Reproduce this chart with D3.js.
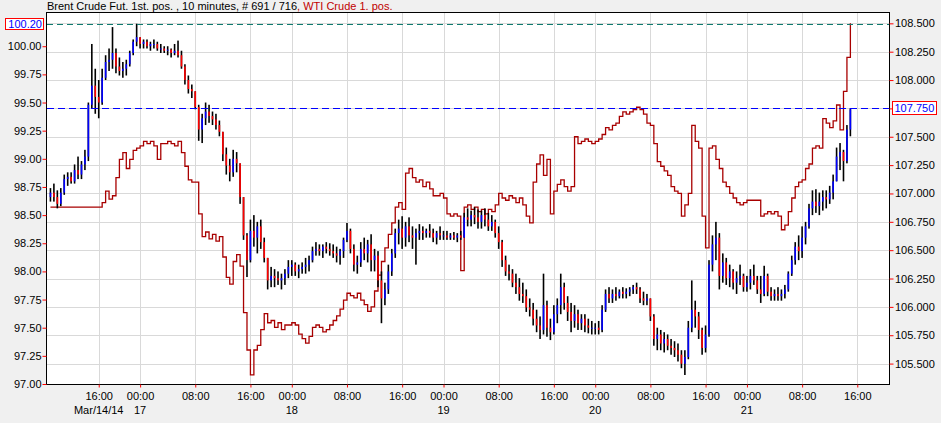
<!DOCTYPE html>
<html><head><meta charset="utf-8">
<script src="https://cdn.jsdelivr.net/npm/d3@7"></script>
<style>
html,body{margin:0;padding:0;background:#f0f0f0;}
svg{display:block;font-family:"Liberation Sans",Arial,sans-serif;font-size:11px;}
</style></head><body>
<svg id="c" width="941" height="423"></svg>
<script>
// ---------- DATA ----------
// Bars are 30-minute samples on a trading-hours axis (hours since Mar 14 00:00, nights/weekend gaps removed)
const barStartHour = 9;
const barStepHours = 0.5;
const brentFirstOpen = 98.66;

const brentClose = [
// Mar 14
98.70,98.66,98.60,98.70,98.82,98.84,98.80,98.90,98.86,98.95,99.02,99.48,99.65,99.55,99.50,99.72,99.86,99.88,99.94,99.82,99.78,99.80,99.84,99.94,100.04,100.08,
// Mar 17
100.02,100.04,100.00,100.02,100.02,99.98,99.98,99.96,99.97,99.94,99.96,99.92,99.82,99.70,99.62,99.60,99.46,99.26,99.36,99.42,99.38,99.35,99.30,99.24,99.04,98.94,98.88,99.00,98.96,98.66,98.32,98.10,98.36,98.30,98.40,98.26,98.12,97.92,97.96,97.94,97.92,97.94,97.98,98.04,
// Mar 18
98.06,98.00,98.02,98.04,98.06,98.10,98.18,98.20,98.18,98.22,98.20,98.18,98.16,98.14,98.18,98.28,98.36,98.20,98.06,98.08,98.20,98.16,98.24,98.10,98.14,97.92,97.76,97.84,98.00,98.16,98.34,98.38,98.30,98.40,98.32,98.30,98.34,98.36,98.34,98.36,98.34,98.30,98.34,98.32,
// Mar 19
98.32,98.30,98.32,98.30,98.32,98.30,98.48,98.46,98.50,98.48,98.44,98.50,98.46,98.40,98.44,98.34,98.26,98.10,98.00,97.98,97.90,97.86,97.80,97.78,97.68,97.66,97.58,97.52,97.48,97.70,97.50,97.46,97.62,97.70,97.86,97.72,97.64,97.56,97.62,97.54,97.58,97.52,97.50,97.50,
// Mar 20
97.50,97.48,97.66,97.80,97.76,97.80,97.78,97.82,97.80,97.82,97.84,97.86,97.84,97.76,97.74,97.76,97.60,97.40,97.44,97.36,97.40,97.34,97.32,97.30,97.26,97.18,97.24,97.50,97.66,97.60,97.48,97.32,97.44,98.06,98.24,98.30,97.96,98.08,97.94,98.00,97.90,97.94,97.96,97.86,
// Mar 21
97.90,97.96,97.92,97.84,97.80,97.96,97.82,97.78,97.80,97.78,97.80,97.84,97.98,98.10,98.22,98.18,98.30,98.40,98.56,98.62,98.58,98.62,98.66,98.64,98.70,98.80,99.02,99.06,98.98,99.26,99.44
];
const brentHigh = [
98.74,98.78,98.72,98.74,98.86,98.88,98.88,98.95,99.02,98.98,99.08,99.50,100.02,99.80,99.70,99.80,99.92,99.98,100.17,99.98,99.90,99.86,99.88,99.96,100.06,100.20,
100.08,100.06,100.06,100.04,100.06,100.04,100.02,100.00,100.00,99.98,100.02,100.05,99.96,99.84,99.74,99.66,99.60,99.48,99.40,99.50,99.48,99.42,99.40,99.34,99.24,99.10,99.00,99.08,99.06,98.96,98.66,98.34,98.46,98.50,98.44,98.46,98.30,98.12,98.04,98.02,98.00,97.98,98.02,98.10,
98.10,98.08,98.06,98.08,98.12,98.14,98.22,98.26,98.24,98.24,98.26,98.25,98.24,98.22,98.20,98.30,98.43,98.38,98.24,98.14,98.26,98.30,98.28,98.33,98.20,98.18,98.00,97.90,98.06,98.20,98.38,98.46,98.49,98.44,98.48,98.40,98.38,98.42,98.40,98.38,98.42,98.38,98.36,98.40,
98.36,98.36,98.34,98.35,98.34,98.36,98.52,98.56,98.54,98.57,98.55,98.54,98.56,98.52,98.50,98.46,98.40,98.28,98.14,98.06,98.02,97.98,97.94,97.90,97.84,97.76,97.72,97.66,97.60,97.98,97.74,97.58,97.70,97.76,97.98,97.90,97.78,97.72,97.70,97.66,97.62,97.62,97.58,97.56,
97.54,97.56,97.70,97.84,97.86,97.84,97.86,97.84,97.86,97.85,97.86,97.88,97.90,97.86,97.82,97.80,97.76,97.62,97.50,97.48,97.46,97.44,97.40,97.38,97.36,97.30,97.30,97.56,97.92,97.74,97.64,97.50,97.52,98.10,98.32,98.44,98.34,98.16,98.12,98.06,98.02,98.00,98.06,97.98,
97.96,98.02,98.06,97.96,97.96,98.05,97.98,97.86,97.84,97.86,97.84,97.88,98.00,98.14,98.26,98.32,98.40,98.44,98.60,98.72,98.73,98.70,98.72,98.72,98.76,98.86,99.10,99.14,99.08,99.30,99.45
];
const brentLow = [
98.62,98.62,98.56,98.58,98.68,98.76,98.78,98.78,98.82,98.82,98.90,98.98,99.45,99.40,99.36,99.48,99.70,99.78,99.80,99.76,99.74,99.72,99.74,99.82,99.92,100.00,
99.98,99.98,99.98,99.96,99.98,99.96,99.94,99.94,99.92,99.90,99.92,99.90,99.80,99.66,99.58,99.54,99.44,99.16,99.14,99.30,99.32,99.30,99.26,99.20,98.98,98.86,98.80,98.84,98.88,98.60,98.28,97.95,98.08,98.22,98.16,98.20,98.08,97.84,97.86,97.86,97.88,97.84,97.88,97.94,
97.96,97.96,97.94,97.98,97.98,98.00,98.08,98.14,98.14,98.12,98.16,98.14,98.12,98.08,98.06,98.12,98.26,98.16,98.00,97.98,98.04,98.10,98.08,98.00,98.00,97.86,97.54,97.70,97.80,97.96,98.12,98.24,98.20,98.22,98.26,98.20,98.06,98.28,98.28,98.30,98.30,98.26,98.24,98.28,
98.28,98.28,98.28,98.28,98.26,98.28,98.30,98.40,98.40,98.42,98.38,98.38,98.40,98.36,98.36,98.30,98.20,98.04,97.96,97.92,97.86,97.80,97.74,97.72,97.64,97.60,97.52,97.46,97.40,97.44,97.42,97.39,97.44,97.54,97.62,97.66,97.56,97.46,97.50,97.48,97.48,97.46,97.45,97.44,
97.44,97.44,97.46,97.64,97.72,97.72,97.74,97.76,97.76,97.76,97.78,97.80,97.80,97.72,97.70,97.70,97.56,97.34,97.30,97.30,97.28,97.30,97.26,97.24,97.20,97.14,97.08,97.22,97.46,97.50,97.40,97.26,97.28,97.42,98.00,98.10,97.84,97.90,97.88,97.86,97.84,97.80,97.88,97.82,
97.82,97.84,97.88,97.80,97.72,97.78,97.78,97.74,97.74,97.74,97.74,97.76,97.82,97.96,98.06,98.10,98.12,98.24,98.38,98.50,98.52,98.50,98.54,98.56,98.60,98.64,98.80,98.90,98.80,98.96,99.20
];
const wtiClose = [
// Mar 14
106.88,106.88,106.88,106.88,106.88,106.88,106.88,106.88,106.88,106.88,106.88,106.88,106.88,106.88,106.88,106.92,107.02,106.95,106.98,107.14,107.30,107.36,107.22,107.30,107.38,107.40,
// Mar 17
107.42,107.46,107.44,107.46,107.42,107.30,107.44,107.44,107.46,107.44,107.42,107.46,107.36,107.24,107.12,107.10,107.10,106.82,106.62,106.66,106.60,106.64,106.58,106.62,106.44,106.26,106.20,106.40,106.46,106.36,105.95,105.62,105.40,105.62,105.66,105.80,105.94,105.86,105.88,105.82,105.86,105.80,105.84,105.84,
// Mar 18
105.86,105.84,105.76,105.72,105.68,105.74,105.82,105.84,105.82,105.78,105.80,105.84,105.88,105.92,105.98,106.06,106.12,106.10,106.08,106.12,106.06,106.02,105.96,106.00,106.14,106.28,106.40,106.52,106.64,106.74,106.88,106.92,106.86,107.18,107.22,107.14,107.10,107.12,107.06,107.10,107.04,106.98,106.98,107.00,
// Mar 19
106.96,106.82,106.80,106.82,106.80,106.32,106.88,106.90,106.86,106.88,106.84,106.86,106.82,106.86,106.84,106.90,107.00,106.96,106.94,106.98,106.96,106.92,106.96,106.90,106.80,106.74,107.10,107.26,107.34,107.16,107.30,106.82,107.02,107.08,107.12,107.06,107.02,107.06,107.50,107.44,107.46,107.48,107.46,107.44,
// Mar 20
107.46,107.48,107.52,107.58,107.56,107.60,107.62,107.68,107.72,107.70,107.72,107.74,107.76,107.74,107.70,107.62,107.60,107.44,107.28,107.24,107.20,107.16,107.06,107.02,107.00,106.80,106.90,107.00,107.60,107.46,107.40,106.80,106.52,107.40,107.42,107.30,107.22,107.10,107.06,107.00,106.96,106.92,106.90,106.92,
// Mar 21
106.94,106.94,106.94,106.94,106.80,106.82,106.84,106.82,106.84,106.80,106.68,106.72,106.84,106.96,107.06,107.10,107.12,107.22,107.26,107.40,107.42,107.40,107.66,107.62,107.58,107.64,107.78,107.56,107.90,108.20,108.50
];

const xDomainHours = [8.5, 130.6];
const tickHours  = [16,22,30,38,44,52,60,66,74,82,88,96,104,110,118,126];
const tickLabels = ["16:00","00:00","08:00","16:00","00:00","08:00","16:00","00:00","08:00","16:00","00:00","08:00","16:00","00:00","08:00","16:00"];
const dateHours  = [16,22,44,66,88,110];
const dateLabels = ["Mar/14/14","17","18","19","20","21"];
const leftDomain  = [97.0, 100.304];
const rightDomain = [105.32, 108.60];
const leftTicks  = [97.00,97.25,97.50,97.75,98.00,98.25,98.50,98.75,99.00,99.25,99.50,99.75,100.00];
const rightTicks = [105.5,105.75,106.0,106.25,106.5,106.75,107.0,107.25,107.5,107.75,108.0,108.25,108.5];
const brentHighMark = 100.20;
const wtiLastMark = 107.75;
const titleBrent = "Brent Crude Fut. 1st. pos. , 10 minutes, # 691 / 716";
const titleWti = ", WTI Crude 1. pos.";

// ---------- DRAW ----------
const W = 941, H = 423;
const P = {l:47, r:889, t:12, b:384};
const svg = d3.select("#c");
svg.append("rect").attr("width",W).attr("height",H).attr("fill","#f0f0f0");
svg.append("rect").attr("x",P.l).attr("y",P.t).attr("width",P.r-P.l).attr("height",P.b-P.t).attr("fill","#fff");

const x  = d3.scaleLinear().domain(xDomainHours).range([P.l,P.r]);
const yL = d3.scaleLinear().domain(leftDomain).range([P.b,P.t]);
const yR = d3.scaleLinear().domain(rightDomain).range([P.b,P.t]);

svg.append("clipPath").attr("id","clip").append("rect")
  .attr("x",P.l).attr("y",P.t).attr("width",P.r-P.l).attr("height",P.b-P.t);

// grid
const grid = svg.append("g").attr("clip-path","url(#clip)");
grid.selectAll(".hg").data(rightTicks).join("line")
  .attr("x1",P.l).attr("x2",P.r)
  .attr("y1",d=>Math.round(yR(d))+0.5).attr("y2",d=>Math.round(yR(d))+0.5)
  .attr("stroke","#d9d9d9");
grid.selectAll(".vg").data(tickHours).join("line")
  .attr("x1",d=>Math.round(x(d))+0.5).attr("x2",d=>Math.round(x(d))+0.5)
  .attr("y1",P.t).attr("y2",P.b)
  .attr("stroke","#d9d9d9");

const plot = svg.append("g").attr("clip-path","url(#clip)");

// WTI step line
const wti = wtiClose.map((v,i)=>({t:barStartHour+i*barStepHours, v}));
plot.append("path").datum(wti)
  .attr("d", d3.line().x(d=>x(d.t)).y(d=>yR(d.v)).curve(d3.curveStepAfter))
  .attr("fill","none").attr("stroke","#a80000").attr("stroke-width",1.3);

// Brent candles
const bars = brentClose.map((c,i)=>({
  t: barStartHour+i*barStepHours,
  o: i ? brentClose[i-1] : brentFirstOpen,
  h: brentHigh[i], l: brentLow[i], c
}));
const bw = 1.6;
plot.selectAll(".wick").data(bars).join("rect")
  .attr("x",d=>x(d.t)-bw/2).attr("width",bw)
  .attr("y",d=>yL(d.h)).attr("height",d=>Math.max(1,yL(d.l)-yL(d.h)))
  .attr("fill","#000");
plot.selectAll(".body").data(bars).join("rect")
  .attr("x",d=>x(d.t)-bw/2).attr("width",bw)
  .attr("y",d=>yL(Math.max(d.o,d.c))).attr("height",d=>Math.max(1,Math.abs(yL(d.o)-yL(d.c))))
  .attr("fill",d=>d.c>=d.o?"#0000ff":"#ff0000");

// marker lines
plot.append("line").attr("x1",P.l).attr("x2",P.r)
  .attr("y1",Math.round(yL(brentHighMark))+0.5).attr("y2",Math.round(yL(brentHighMark))+0.5)
  .attr("stroke","#0f7a6e").attr("stroke-dasharray","6,4");
plot.append("line").attr("x1",P.l).attr("x2",P.r)
  .attr("y1",Math.round(yR(wtiLastMark))+0.5).attr("y2",Math.round(yR(wtiLastMark))+0.5)
  .attr("stroke","#0000ff").attr("stroke-dasharray","7,4");

// border
svg.append("rect").attr("x",P.l-0.5).attr("y",P.t+0.5).attr("width",P.r-P.l+1).attr("height",P.b-P.t)
  .attr("fill","none").attr("stroke","#000");

// axes
const axL = svg.append("g").attr("transform",`translate(${P.l-0.5},0)`)
  .call(d3.axisLeft(yL).tickValues(leftTicks).tickSize(4).tickPadding(1).tickFormat(d3.format(".2f")));
const axR = svg.append("g").attr("transform",`translate(${P.r+0.5},0)`)
  .call(d3.axisRight(yR).tickValues(rightTicks).tickSize(4).tickPadding(1.5).tickFormat(d3.format(".3f")));
const axB = svg.append("g").attr("transform",`translate(0,${P.b+0.5})`)
  .call(d3.axisBottom(x).tickValues(tickHours).tickSize(3).tickPadding(5).tickFormat((d,i)=>tickLabels[i]));
[axL,axR,axB].forEach(a=>{
  a.select(".domain").remove();
  a.selectAll(".tick line").attr("stroke","#ff0000");
  a.selectAll("text").attr("fill","#000").style("font-family",'"Liberation Sans",Arial,sans-serif').style("font-size","11px");
});

// date labels
svg.selectAll(".dl").data(dateHours).join("text")
  .attr("x",d=>x(d)).attr("y",414).attr("text-anchor","middle")
  .attr("fill","#000").text((d,i)=>dateLabels[i]);

// marker labels
svg.append("rect").attr("x",5.5).attr("y",18.5).attr("width",38).attr("height",11)
  .attr("fill","#fff").attr("stroke","#ff0000");
svg.append("text").attr("x",42).attr("y",yL(brentHighMark)+4).attr("text-anchor","end")
  .attr("fill","#0000ff").text(d3.format(".2f")(brentHighMark));
svg.append("rect").attr("x",892.5).attr("y",101.5).attr("width",44).attr("height",13)
  .attr("fill","#fff").attr("stroke","#ff0000");
svg.append("text").attr("x",894.5).attr("y",yR(wtiLastMark)+4)
  .attr("fill","#0000ff").text(d3.format(".3f")(wtiLastMark));

// title
const tt = svg.append("text").attr("x",47).attr("y",9.5);
tt.append("tspan").attr("fill","#000").text(titleBrent);
tt.append("tspan").attr("fill","#c00000").text(titleWti);
</script>
</body></html>
